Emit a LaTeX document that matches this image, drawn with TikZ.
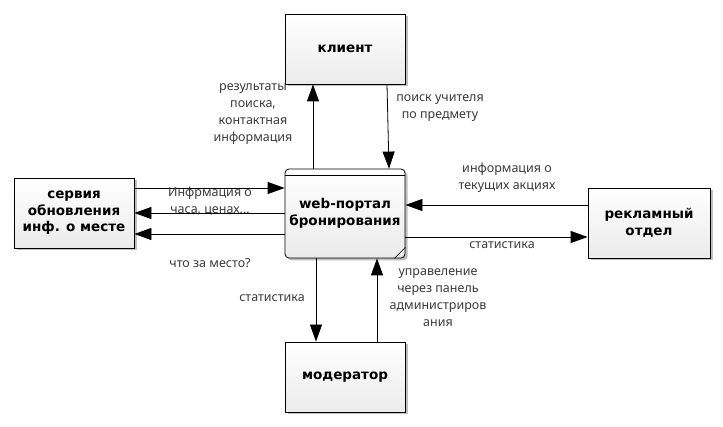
\documentclass[tikz,border=0pt]{standalone}
\usepackage{fontspec}
\setmainfont{Noto Sans}
\newfontfamily\titlefont{DejaVu Sans}
\usetikzlibrary{arrows.meta,shadows,calc}
\definecolor{lbl}{HTML}{3A3A3A}
\begin{document}
\begin{tikzpicture}[x=1pt,y=-1pt,
  box/.style={draw=black, line width=0.8pt, top color=white, bottom color=black!8,
    minimum width=120pt, minimum height=70pt, align=center,
    font=\titlefont\bfseries\fontsize{13.5}{16.5}\selectfont,
    drop shadow={shadow xshift=2.5pt, shadow yshift=-2.5pt, opacity=0.25, fill=black}},
  arr/.style={draw=black, line width=0.8pt, -{Triangle[length=17pt,width=12pt]}},
  lab/.style={text=lbl, align=center, font=\fontsize{12.5}{17}\selectfont, inner sep=0pt}]
\useasboundingbox (0,0) rectangle (723,427);
\node[box] (klient) at (345,49) {клиент};
\node[box] (servia) at (74,213) {сервия\\обновления\\инф. о месте};
\node[box, rounded corners=4pt, minimum height=89pt] (portal) at (345,213.5) {web-портал\\бронирования};
\node[box, minimum width=122pt] (reklam) at (649,223) {рекламный\\отдел};
\node[box] (moder) at (345,377) {модератор};
% portal decorations
\draw[line width=0.8pt] ([yshift=-7pt]portal.north west) -- ([yshift=-7pt]portal.north east);
\draw[line width=0.6pt] ([xshift=-11pt]portal.south east) -- ([yshift=11pt]portal.south east);
% arrows
\draw[arr] ([xshift=-32pt]portal.north) -- ([xshift=-32pt]klient.south);
\draw[arr] ([xshift=42pt]klient.south) -- ([xshift=44pt]portal.north);
\draw[arr] ([yshift=25pt]servia.east) -- ([yshift=25.5pt]portal.west);
\draw[arr] ([yshift=0.5pt]portal.west) -- (servia.east);
\draw[arr] ([yshift=-20.5pt]portal.west) -- ([yshift=-21pt]servia.east);
\draw[arr] ([yshift=18pt]reklam.west) -- ([yshift=8.5pt]portal.east);
\draw[arr] ([yshift=-23.5pt]portal.east) -- ([yshift=-14pt]reklam.west);
\draw[arr] ([xshift=-29pt]portal.south) -- ([xshift=-29pt]moder.north);
\draw[arr] ([xshift=32pt]moder.north) -- ([xshift=32pt]portal.south);
% labels
\node[lab] (l1) at (253,114) {результаты\\поиска,\\контактная\\информация};
\node[lab] (l2) at (440,108.5) {поиск учителя\\по предмету};
\node[lab] (l3) at (210,201.5) {Инфрмация о\\часа, ценах...};
\node[lab] (l4) at (210,263) {что за место?};
\node[lab] (l5) at (507,177.5) {информация о\\текущих акциях};
\node[lab] (l6) at (502,245) {статистика};
\node[lab] (l7) at (272,298) {статистика};
\node[lab] (l8) at (438,298) {управеление\\через панель\\администриров\\ания};
\end{tikzpicture}
\end{document}
